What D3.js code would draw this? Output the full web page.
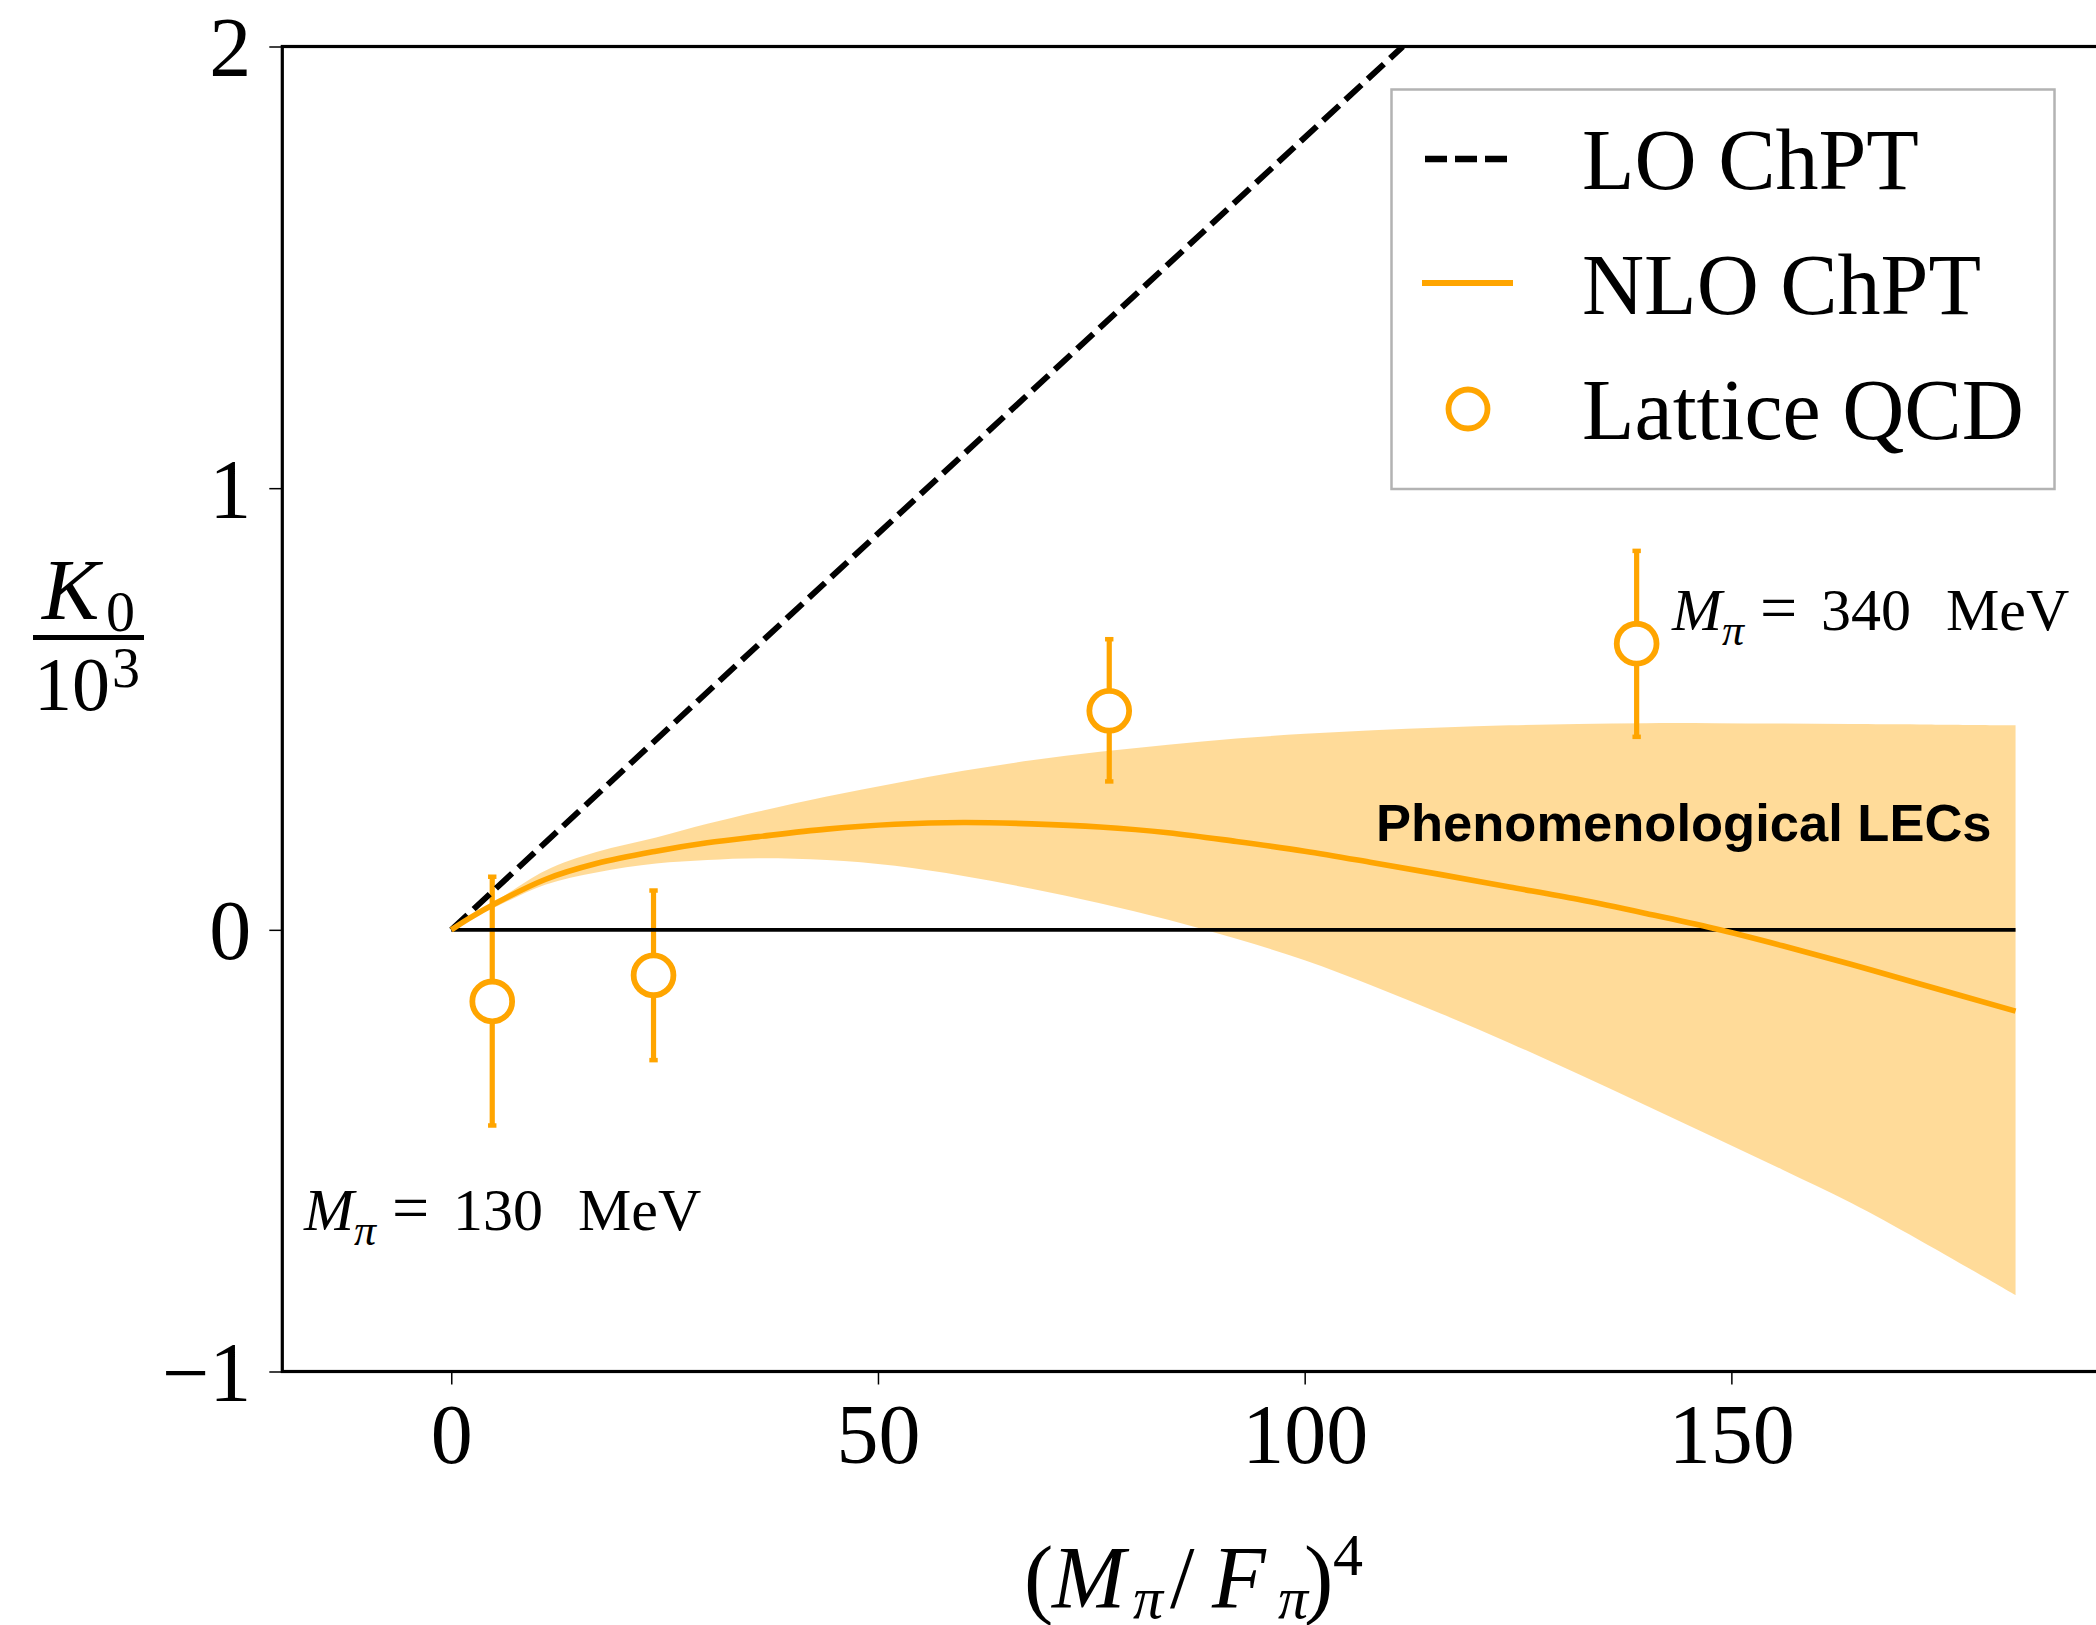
<!DOCTYPE html>
<html>
<head>
<meta charset="utf-8">
<script src="https://cdn.jsdelivr.net/npm/d3@7"></script>
<style>
  html, body { margin: 0; padding: 0; background: #fff; overflow: hidden; }
  svg { display: block; }
  text { white-space: pre; }
</style>
</head>
<body>
<svg id="chart" width="2096" height="1625"></svg>
<script>
// ---- data -------------------------------------------------------------
// Lattice QCD points: x = (M_pi/F_pi)^4, y = K0 / 10^3 with error range
const latticeX  = [4.8, 23.7, 77.1, 138.9];
const latticeY  = [-0.162, -0.103, 0.496, 0.648];
const latticeHi = [0.120, 0.089, 0.658, 0.858];
const latticeLo = [-0.443, -0.295, 0.336, 0.437];
const latticeNotes = ["130", "340"];   // pion masses of first and last point (MeV)

// LO ChPT: straight line through the origin
const loX = [0, 111.5];
const loY = [0, 2.0];

// NLO ChPT central curve and its band (phenomenological LECs)
const nloX      = [0, 2, 5, 11, 17, 24, 30, 36, 44, 52, 60, 68, 76, 84, 92, 100, 108, 116, 124, 132, 140, 148, 156, 164, 172, 183.3];
const nloY      = [0, 0.025, 0.058, 0.114, 0.150, 0.178, 0.197, 0.211, 0.228, 0.239, 0.243, 0.240, 0.233, 0.220, 0.200, 0.178, 0.152, 0.125, 0.097, 0.069, 0.037, 0.003, -0.036, -0.078, -0.122, -0.184];
const bandUpper = [0, 0.027, 0.062, 0.134, 0.176, 0.209, 0.240, 0.268, 0.302, 0.332, 0.360, 0.384, 0.403, 0.419, 0.433, 0.444, 0.452, 0.458, 0.463, 0.466, 0.468, 0.468, 0.467, 0.466, 0.465, 0.463];
const bandLower = [0, 0.024, 0.050, 0.102, 0.130, 0.150, 0.158, 0.162, 0.158, 0.145, 0.122, 0.093, 0.060, 0.023, -0.020, -0.069, -0.127, -0.190, -0.256, -0.326, -0.398, -0.470, -0.543, -0.618, -0.702, -0.827];

// zero reference line
const zeroX = [0, 183.3];
const zeroY = [0, 0];

// axes
const xTicks = [0, 50, 100, 150];
const yTicks = [-1, 0, 1, 2];
const xDomain = [-19.8, 196];
const yDomain = [-1, 2];

// ---- layout -----------------------------------------------------------
const ORANGE = "#FFA500";
const SERIF = "'Liberation Serif', 'Times New Roman', serif";
const SANS  = "'Liberation Sans', Arial, sans-serif";

const plot = { left: 282.3, top: 46.5, bottom: 1371.5 };
const pxPerUnit = 8.534;
plot.right = plot.left + (xDomain[1] - xDomain[0]) * pxPerUnit;

const x = d3.scaleLinear().domain(xDomain).range([plot.left, plot.right]);
const y = d3.scaleLinear().domain(yDomain).range([plot.bottom, plot.top]);

const svg = d3.select("#chart");

svg.append("defs").append("clipPath").attr("id", "plotClip")
  .append("rect")
  .attr("x", plot.left).attr("y", plot.top)
  .attr("width", plot.right - plot.left).attr("height", plot.bottom - plot.top);

const g = svg.append("g").attr("clip-path", "url(#plotClip)");
const smooth = d3.curveCatmullRom.alpha(0.5);

// band
const band = nloX.map((v, i) => ({ x: v, lo: bandLower[i], hi: bandUpper[i] }));
g.append("path")
  .datum(band)
  .attr("fill", ORANGE)
  .attr("fill-opacity", 0.4)
  .attr("d", d3.area().x(d => x(d.x)).y0(d => y(d.lo)).y1(d => y(d.hi)).curve(smooth));

// error bars
const pts = latticeX.map((v, i) => ({ x: v, y: latticeY[i], hi: latticeHi[i], lo: latticeLo[i] }));
const eb = g.append("g").attr("stroke", ORANGE);
eb.selectAll("line.bar").data(pts).join("line").attr("class", "bar")
  .attr("x1", d => x(d.x)).attr("x2", d => x(d.x))
  .attr("y1", d => y(d.lo)).attr("y2", d => y(d.hi))
  .attr("stroke-width", 5.2);
eb.selectAll("line.capHi").data(pts).join("line").attr("class", "capHi")
  .attr("x1", d => x(d.x) - 4.2).attr("x2", d => x(d.x) + 4.2)
  .attr("y1", d => y(d.hi)).attr("y2", d => y(d.hi))
  .attr("stroke-width", 4.5);
eb.selectAll("line.capLo").data(pts).join("line").attr("class", "capLo")
  .attr("x1", d => x(d.x) - 4.2).attr("x2", d => x(d.x) + 4.2)
  .attr("y1", d => y(d.lo)).attr("y2", d => y(d.lo))
  .attr("stroke-width", 4.5);

// zero line
const line = d3.line().x(d => x(d[0])).y(d => y(d[1]));
g.append("path")
  .datum(zeroX.map((v, i) => [v, zeroY[i]]))
  .attr("fill", "none").attr("stroke", "#000").attr("stroke-width", 3.8)
  .attr("d", line);

// LO dashed line
g.append("path")
  .datum(loX.map((v, i) => [v, loY[i]]))
  .attr("fill", "none").attr("stroke", "#000").attr("stroke-width", 6)
  .attr("stroke-dasharray", "22 8.5")
  .attr("d", line);

// NLO central curve
g.append("path")
  .datum(nloX.map((v, i) => [v, nloY[i]]))
  .attr("fill", "none").attr("stroke", ORANGE).attr("stroke-width", 5.6)
  .attr("stroke-linejoin", "round")
  .attr("d", d3.line().x(d => x(d[0])).y(d => y(d[1])).curve(smooth));

// lattice markers
g.selectAll("circle.pt").data(pts).join("circle").attr("class", "pt")
  .attr("cx", d => x(d.x)).attr("cy", d => y(d.y)).attr("r", 19.9)
  .attr("fill", "#fff").attr("stroke", ORANGE).attr("stroke-width", 5.8);

// ---- axes -------------------------------------------------------------
// frame
svg.append("rect")
  .attr("x", plot.left).attr("y", plot.top)
  .attr("width", plot.right - plot.left).attr("height", plot.bottom - plot.top)
  .attr("fill", "none").attr("stroke", "#000").attr("stroke-width", 3.2);

const xAxis = svg.append("g").attr("transform", `translate(0,${plot.bottom})`)
  .call(d3.axisBottom(x).tickValues(xTicks).tickSize(13).tickFormat(d3.format("d")));
xAxis.select(".domain").remove();
xAxis.selectAll(".tick line").attr("stroke", "#000").attr("stroke-width", 1.5);
xAxis.selectAll(".tick text")
  .attr("y", 91).attr("dy", null)
  .attr("font-family", SERIF).attr("font-size", 84).attr("fill", "#000");

const yAxis = svg.append("g").attr("transform", `translate(${plot.left},0)`)
  .call(d3.axisLeft(y).tickValues(yTicks).tickSize(13).tickFormat(d3.format("d")));
yAxis.select(".domain").remove();
yAxis.selectAll(".tick line").attr("stroke", "#000").attr("stroke-width", 1.5);
yAxis.selectAll(".tick text")
  .attr("x", -31).attr("dy", 29)
  .attr("font-family", SERIF).attr("font-size", 84).attr("fill", "#000");

// ---- text helpers -----------------------------------------------------
function txt(parent, px, py, s, o = {}) {
  return parent.append("text")
    .attr("x", px).attr("y", py)
    .attr("font-family", o.family || SERIF)
    .attr("font-size", o.size || 86)
    .attr("font-style", o.italic ? "italic" : "normal")
    .attr("font-weight", o.bold ? "bold" : "normal")
    .attr("text-anchor", o.anchor || "start")
    .attr("fill", "#000")
    .text(s);
}

// y-axis label: K_0 / 10^3
const yl = svg.append("g");
txt(yl, 42, 619, "K", { size: 86, italic: true });
txt(yl, 106, 631, "0", { size: 58 });
yl.append("line").attr("x1", 33).attr("x2", 144).attr("y1", 637.5).attr("y2", 637.5)
  .attr("stroke", "#000").attr("stroke-width", 5);
txt(yl, 34, 710, "10", { size: 76 });
txt(yl, 112, 687, "3", { size: 56 });

// x-axis label: (M_pi / F_pi)^4
const xl = svg.append("g");
txt(xl, 1024, 1607, "(", { size: 88 });
txt(xl, 1052, 1607, "M", { size: 88, italic: true });
txt(xl, 1133, 1618, "π", { size: 60, italic: true });
txt(xl, 1170, 1607, "/", { size: 88 });
txt(xl, 1212, 1607, "F", { size: 88, italic: true });
txt(xl, 1278, 1618, "π", { size: 60, italic: true });
txt(xl, 1304, 1607, ")", { size: 88 });
txt(xl, 1333, 1575, "4", { size: 60 });

// pion-mass annotations next to first and last lattice points
function massNote(px, py, val) {
  const a = svg.append("g");
  txt(a, px - 2, py, "M", { size: 60, italic: true });
  txt(a, px + 48, py + 15, "π", { size: 44, italic: true });
  txt(a, px + 86, py, "=", { size: 66 });
  txt(a, px + 147, py, val, { size: 60 });
  txt(a, px + 272, py, "MeV", { size: 60 });
}
massNote(306, 1230, latticeNotes[0]);
massNote(1674, 630, latticeNotes[1]);

// band label
txt(svg, 1376, 841, "Phenomenological LECs", { family: SANS, size: 52.5, bold: true });

// ---- legend -----------------------------------------------------------
const lg = svg.append("g");
lg.append("rect").attr("x", 1391.5).attr("y", 89.5).attr("width", 663).attr("height", 399.5)
  .attr("fill", "#fff").attr("fill-opacity", 0.8)
  .attr("stroke", "#b3b3b3").attr("stroke-width", 2.5);
lg.append("line").attr("x1", 1425).attr("x2", 1510).attr("y1", 159).attr("y2", 159)
  .attr("stroke", "#000").attr("stroke-width", 6.5).attr("stroke-dasharray", "22 8");
lg.append("line").attr("x1", 1422).attr("x2", 1513).attr("y1", 283).attr("y2", 283)
  .attr("stroke", ORANGE).attr("stroke-width", 6);
lg.append("circle").attr("cx", 1468).attr("cy", 409).attr("r", 19.5)
  .attr("fill", "#fff").attr("stroke", ORANGE).attr("stroke-width", 5.8);
txt(lg, 1582, 189, "LO ChPT", { size: 86 });
txt(lg, 1582, 314, "NLO ChPT", { size: 86 });
txt(lg, 1582, 439, "Lattice QCD", { size: 86 });
</script>
</body>
</html>
